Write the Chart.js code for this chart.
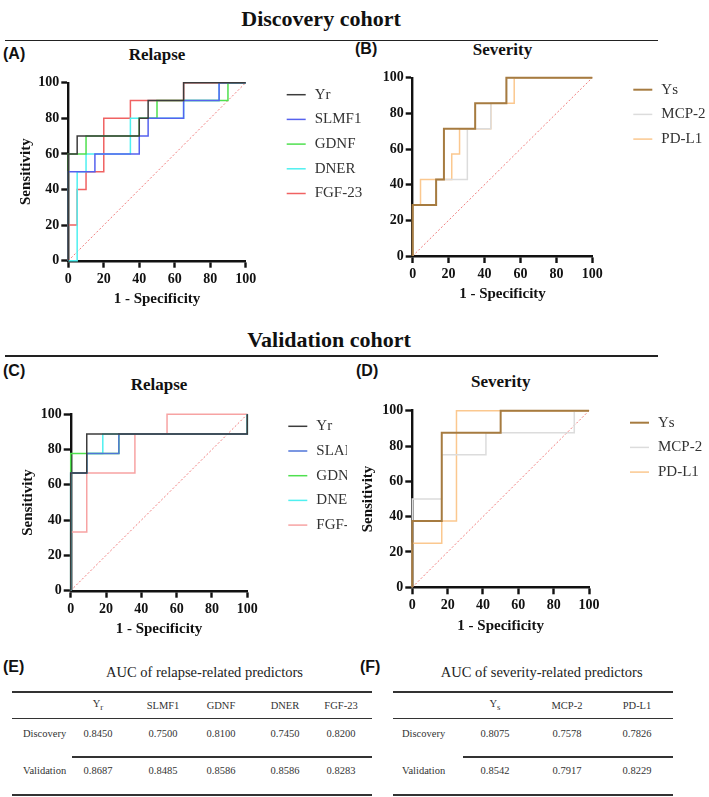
<!DOCTYPE html>
<html><head><meta charset="utf-8">
<script src="https://cdn.jsdelivr.net/npm/chart.js@4.4.0/dist/chart.umd.min.js"></script>
<style>
body{margin:0;background:#fff;}
#page{position:relative;width:709px;height:797px;overflow:hidden;font-family:"Liberation Serif","DejaVu Serif","Noto Serif",Tinos,"Times New Roman",serif;color:#111;background:#fff}
.abs{position:absolute;white-space:nowrap}
.cohort{font-weight:bold;font-size:22px;transform:translate(-50%,-50%)}
.rule{height:1.6px;background:#222}
.letter{font-family:"Liberation Sans",Arial,sans-serif;font-weight:bold;font-size:16px;transform:translateY(-50%)}
.ptitle{font-weight:bold;font-size:17px;transform:translate(-50%,-50%)}
.ttitle{font-size:14.5px;color:#222;transform:translate(-50%,-50%)}
.cell{font-size:10.5px;color:#333;transform:translate(-50%,-50%)}
.rowlab{font-size:10.5px;color:#333;transform:translateY(-50%)}
.tline{background:#333}
canvas{position:absolute}
</style></head><body><div id="page"></div>
<script>
// ---------------- DATA ----------------
// ROC vertices: x = 1 - Specificity (%), y = Sensitivity (%)
// (A) Discovery cohort, relapse
const A_Yr_x    = [0,0,5,5,40,40,45,45,65,65,100];
const A_Yr_y    = [0,60,60,70,70,80,80,90,90,100,100];
const A_SLMF1_x = [0,0,15,15,40,40,45,45,65,65,85,85,100];
const A_SLMF1_y = [0,50,50,60,60,70,70,80,80,90,90,100,100];
const A_GDNF_x  = [0,0,10,10,40,40,50,50,90,90,100];
const A_GDNF_y  = [0,60,60,70,70,80,80,90,90,100,100];
const A_DNER_x  = [0,5,5,10,10,35,35,65,65,85,85,100];
const A_DNER_y  = [0,0,50,50,60,60,80,80,90,90,100,100];
const A_FGF23_x = [0,0,5,5,10,10,20,20,35,35,65,65,100];
const A_FGF23_y = [0,20,20,40,40,50,50,80,80,90,90,100,100];
// (B) Discovery cohort, severity
const B_Ys_x   = [0,0,13.04,13.04,17.39,17.39,34.78,34.78,52.17,52.17,100];
const B_Ys_y   = [0,28.57,28.57,42.86,42.86,71.43,71.43,85.71,85.71,100,100];
const B_MCP2_x = [0,0,13.04,13.04,30.43,30.43,43.48,43.48,52.17,52.17,100];
const B_MCP2_y = [0,28.57,28.57,42.86,42.86,71.43,71.43,85.71,85.71,100,100];
const B_PDL1_x = [0,0,4.35,4.35,21.74,21.74,26.09,26.09,43.48,43.48,56.52,56.52,100];
const B_PDL1_y = [0,28.57,28.57,42.86,42.86,57.14,57.14,71.43,71.43,85.71,85.71,100,100];
// (C) Validation cohort, relapse
const C_Yr_x     = [0,0,9.09,9.09,100,100];
const C_Yr_y     = [0,66.67,66.67,88.89,88.89,100];
const C_SLAMF1_x = [0,0,9.09,9.09,27.27,27.27,100,100];
const C_SLAMF1_y = [0,66.67,66.67,77.78,77.78,88.89,88.89,100];
const C_GDNF_x   = [0,0,27.27,27.27,100,100];
const C_GDNF_y   = [0,77.78,77.78,88.89,88.89,100];
const C_DNER_x   = [0,0,9.09,9.09,18.18,18.18,100,100];
const C_DNER_y   = [0,66.67,66.67,77.78,77.78,88.89,88.89,100];
const C_FGF23_x  = [0,0,9.09,9.09,36.36,36.36,54.55,54.55,100];
const C_FGF23_y  = [0,33.33,33.33,66.67,66.67,88.89,88.89,100,100];
// (D) Validation cohort, severity
const D_Ys_x   = [0,0,16.67,16.67,50,50,100];
const D_Ys_y   = [0,37.5,37.5,87.5,87.5,100,100];
const D_MCP2_x = [0,0,16.67,16.67,41.67,41.67,91.67,91.67,100];
const D_MCP2_y = [0,50,50,75,75,87.5,87.5,100,100];
const D_PDL1_x = [0,0,16.67,16.67,25,25,100];
const D_PDL1_y = [0,25,25,37.5,37.5,100,100];
// chance line
const chance_x = [0,100];
const chance_y = [0,100];
// axis ticks
const axisTicks = [0,20,40,60,80,100];
// (E)/(F) AUC tables
const relapseMarkers   = ['Y<sub>r</sub>','SLMF1','GDNF','DNER','FGF-23'];
const relapseDiscovery = ['0.8450','0.7500','0.8100','0.7450','0.8200'];
const relapseValidation= ['0.8687','0.8485','0.8586','0.8586','0.8283'];
const severityMarkers   = ['Y<sub>s</sub>','MCP-2','PD-L1'];
const severityDiscovery = ['0.8075','0.7578','0.7826'];
const severityValidation= ['0.8542','0.7917','0.8229'];
const cohortRows = ['Discovery','Validation'];

const SERIF = '"Liberation Serif","DejaVu Serif","Noto Serif",Tinos,"Times New Roman",serif';

// ---------------- LAYOUT ----------------
const page = document.getElementById('page');
function add(cls, html, style){
  const d=document.createElement('div'); d.className='abs '+cls; d.innerHTML=html;
  Object.assign(d.style, style); page.appendChild(d); return d;
}
add('cohort','Discovery cohort',{left:'321px',top:'19px'});
add('rule','',{left:'5px',top:'39.5px',width:'653px'});
add('cohort','Validation cohort',{left:'329px',top:'340px'});
add('rule','',{left:'5px',top:'355px',width:'653px'});

add('letter','(A)',{left:'3px',top:'54px'});
add('letter','(B)',{left:'355px',top:'49px'});
add('letter','(C)',{left:'3px',top:'371px'});
add('letter','(D)',{left:'356px',top:'371px'});
add('ptitle','Relapse',{left:'157px',top:'55px'});
add('ptitle','Severity',{left:'502.5px',top:'50px'});
add('ptitle','Relapse',{left:'159px',top:'385px'});
add('ptitle','Severity',{left:'500.7px',top:'382px'});

// ---------------- CHARTS ----------------
const legendPlugin = {
  id:'rocLegend',
  afterDraw(chart){
    const {ctx, chartArea} = chart;
    ctx.save();
    ctx.font = '15px ' + SERIF;
    ctx.textBaseline = 'middle';
    ctx.textAlign = 'left';
    let k = 0;
    chart.data.datasets.forEach(ds=>{
      if (ds.chance) return;
      const y = chartArea.top + 12 + k*24.7;
      ctx.strokeStyle = ds.borderColor; ctx.lineWidth = ds.borderWidth;
      ctx.beginPath(); ctx.moveTo(chartArea.right+41, y); ctx.lineTo(chartArea.right+60, y); ctx.stroke();
      ctx.fillStyle = '#333'; ctx.fillText(ds.label, chartArea.right+69, y);
      k++;
    });
    ctx.restore();
  }
};

function rocChart(box, area, series, yTitle, yTitleX){
  const c = document.createElement('canvas');
  c.width = box.w; c.height = box.h;
  c.style.left = box.l+'px'; c.style.top = box.t+'px';
  c.style.width = box.w+'px'; c.style.height = box.h+'px';
  page.appendChild(c);
  const tickFont = {family:SERIF, weight:'bold', size:14};
  const titleFont = {family:SERIF, weight:'bold', size:15, lineHeight:1.2};
  const ds = series.map(s=>({
    label:s.label, data:s.x.map((x,i)=>({x:x,y:s.y[i]})), showLine:true,
    borderColor:s.color, borderWidth:s.w||1.5, pointRadius:0, tension:0, fill:false, clip:false
  }));
  ds.push({label:'chance', chance:true, data:chance_x.map((x,i)=>({x:x,y:chance_y[i]})), showLine:true,
    borderColor:'#f07c7c', borderWidth:1, borderDash:[2,2], pointRadius:0, fill:false, clip:false});
  const xTitleCenter = area.b + 38.5;
  const padBottom = (box.t+box.h) - xTitleCenter - 9;
  const yW = area.l - box.l;
  const xH = (box.t+box.h) - area.b;
  const yPadTop = yTitle ? (yTitleX - box.l - 9) : 0;
  const axisCommon = {
    type:'linear', min:0, max:100,
    afterBuildTicks: sc => { sc.ticks = axisTicks.map(v=>({value:v})); },
    grid:{drawOnChartArea:false, drawTicks:true, tickLength:7, tickWidth:2.4, tickColor:'#111'},
    border:{display:true, color:'#111', width:2.4}
  };
  return new Chart(c, {
    type:'scatter',
    data:{datasets:ds},
    options:{
      responsive:false, animation:false, devicePixelRatio:1,
      events:[],
      layout:{padding:{left:0, top:area.t-box.t, right:(box.l+box.w)-area.r, bottom:0}},
      plugins:{legend:{display:false}, tooltip:{enabled:false}},
      scales:{
        x:Object.assign({}, axisCommon, {
          position:'bottom',
          ticks:{font:tickFont, color:'#111', padding:3, maxRotation:0, autoSkip:false},
          title:{display:true, text:'1 - Specificity', font:titleFont, color:'#111', padding:{top:0,bottom:padBottom}},
          afterFit: sc => { sc.height = xH; }
        }),
        y:Object.assign({}, axisCommon, {
          position:'left',
          ticks:{font:tickFont, color:'#111', padding:2, autoSkip:false},
          title:{display:!!yTitle, text:yTitle||'', font:titleFont, color:'#111', padding:{top:yPadTop,bottom:0}},
          afterFit: sc => { sc.width = yW; }
        })
      }
    },
    plugins:[legendPlugin]
  });
}

const colYr='#3c3c3c', colSL='#5662ee', colGD='#4fe04f', colDN='#4ff0f0', colFG='#f06262';
const colYs='#a67b40', colMC='#dcdcdc', colPD='#fbc88f';

rocChart({l:0,t:66,w:372,h:250},{l:68.3,t:82.7,r:245.7,b:260.7},[
  {label:'Yr',x:A_Yr_x,y:A_Yr_y,color:colYr},
  {label:'SLMF1',x:A_SLMF1_x,y:A_SLMF1_y,color:colSL},
  {label:'GDNF',x:A_GDNF_x,y:A_GDNF_y,color:colGD},
  {label:'DNER',x:A_DNER_x,y:A_DNER_y,color:colDN},
  {label:'FGF-23',x:A_FGF23_x,y:A_FGF23_y,color:colFG}
],'Sensitivity',26);

rocChart({l:372,t:61,w:337,h:250},{l:412.7,t:77.7,r:592.3,b:256},[
  {label:'Ys',x:B_Ys_x,y:B_Ys_y,color:colYs,w:2},
  {label:'MCP-2',x:B_MCP2_x,y:B_MCP2_y,color:colMC},
  {label:'PD-L1',x:B_PDL1_x,y:B_PDL1_y,color:colPD}
],null,0);

rocChart({l:0,t:398,w:347,h:250},{l:70.7,t:414.3,r:247.3,b:590.7},[
  {label:'Yr',x:C_Yr_x,y:C_Yr_y,color:colYr},
  {label:'SLAMF1',x:C_SLAMF1_x,y:C_SLAMF1_y,color:'#4f74d8'},
  {label:'GDNF',x:C_GDNF_x,y:C_GDNF_y,color:colGD},
  {label:'DNER',x:C_DNER_x,y:C_DNER_y,color:colDN},
  {label:'FGF-23',x:C_FGF23_x,y:C_FGF23_y,color:'#f7a3a3'}
],'Sensitivity',28.3);

rocChart({l:358,t:394,w:351,h:250},{l:412.3,t:410.7,r:589,b:587.3},[
  {label:'Ys',x:D_Ys_x,y:D_Ys_y,color:colYs,w:2},
  {label:'MCP-2',x:D_MCP2_x,y:D_MCP2_y,color:colMC},
  {label:'PD-L1',x:D_PDL1_x,y:D_PDL1_y,color:colPD}
],'Sensitivity',368.3);

// ---------------- TABLES ----------------
function aucTable(o){
  add('letter',o.letter,{left:o.letterX+'px',top:'667px'});
  add('ttitle',o.title,{left:o.titleX+'px',top:'672px'});
  const L=o.x0, W=o.x1-o.x0;
  add('tline','',{left:L+'px',top:'691px',width:W+'px',height:'2px'});
  add('tline','',{left:L+'px',top:'717.5px',width:W+'px',height:'1.5px'});
  add('tline','',{left:o.midX+'px',top:'756px',width:(o.x1-o.midX)+'px',height:'1.5px'});
  add('tline','',{left:L+'px',top:'793.5px',width:W+'px',height:'2px'});
  o.markers.forEach((m,i)=>{
    add('cell',m,{left:o.cols[i]+'px',top:'705px'});
    add('cell',o.disc[i],{left:o.cols[i]+'px',top:'733px'});
    add('cell',o.val[i],{left:o.cols[i]+'px',top:'770px'});
  });
  add('rowlab',cohortRows[0],{left:o.labX+'px',top:'733px'});
  add('rowlab',cohortRows[1],{left:o.labX+'px',top:'770px'});
}
aucTable({letter:'(E)',letterX:3,title:'AUC of relapse-related predictors',titleX:204.5,
  x0:12,x1:372,midX:72,labX:23,cols:[98,163,221,285,341],
  markers:relapseMarkers,disc:relapseDiscovery,val:relapseValidation});
aucTable({letter:'(F)',letterX:360,title:'AUC of severity-related predictors',titleX:541.7,
  x0:393,x1:673,midX:463,labX:402,cols:[495,567,637],
  markers:severityMarkers,disc:severityDiscovery,val:severityValidation});
</script></body></html>
